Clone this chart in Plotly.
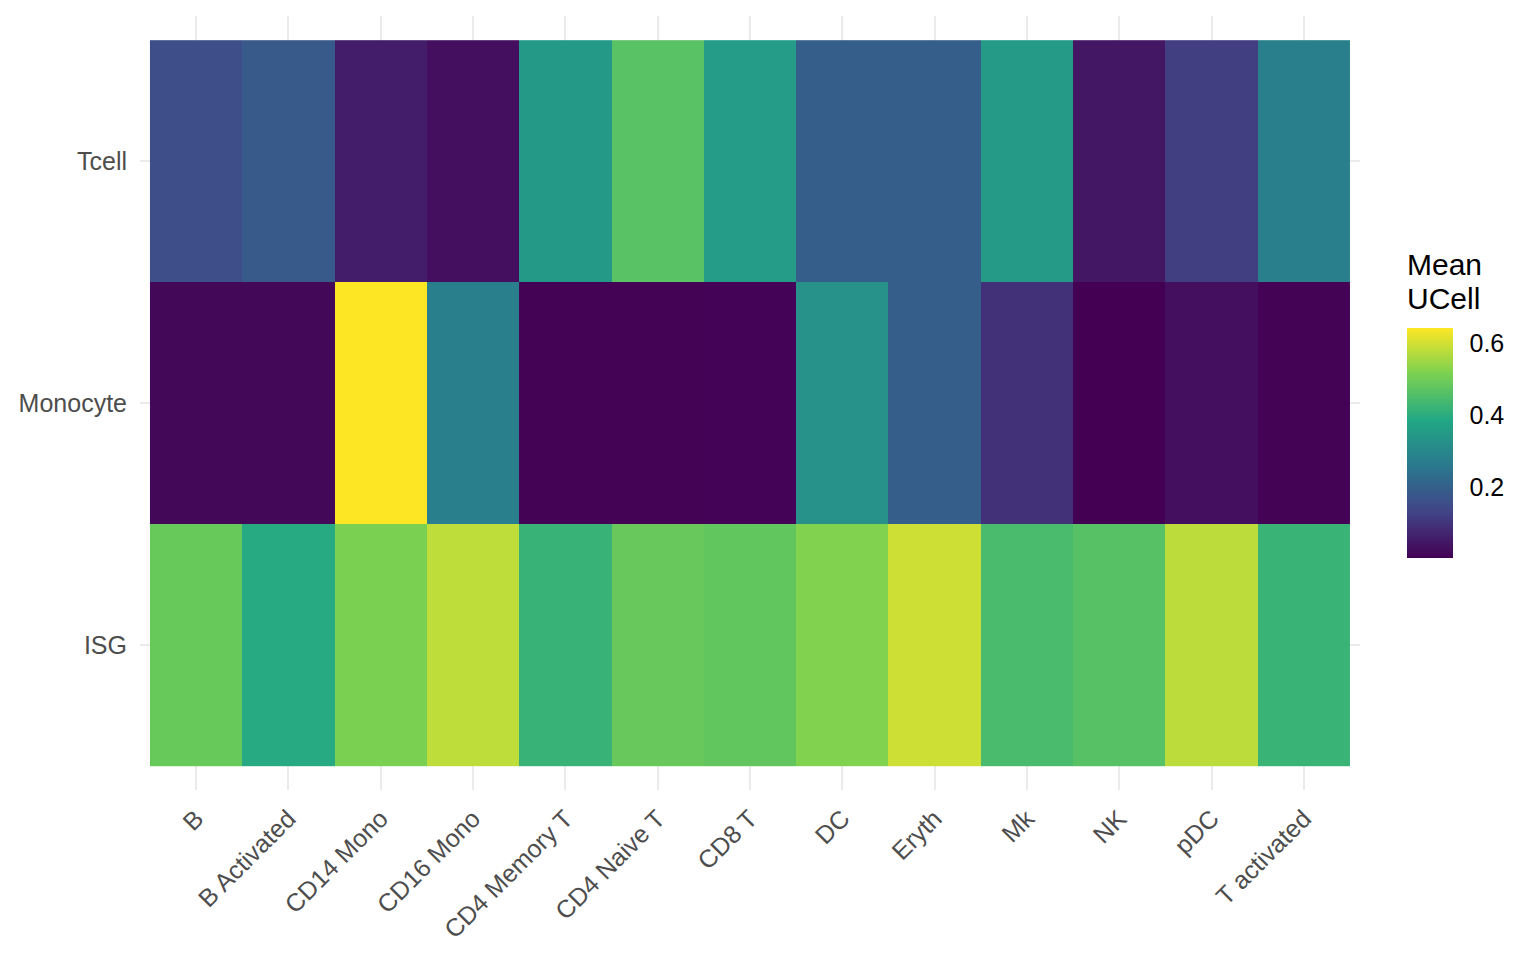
import plotly.graph_objects as go

cell_types = ["B", "B Activated", "CD14 Mono", "CD16 Mono", "CD4 Memory T", "CD4 Naive T",
              "CD8 T", "DC", "Eryth", "Mk", "NK", "pDC", "T activated"]
signatures = ["ISG", "Monocyte", "Tcell"]  # bottom to top

tcell = [0.156, 0.185, 0.057, 0.030, 0.347, 0.466, 0.354, 0.195, 0.195, 0.349, 0.045, 0.120, 0.280]
monocyte = [0.017, 0.017, 0.641, 0.280, 0.007, 0.007, 0.008, 0.328, 0.195, 0.096, 0.004, 0.030, 0.007]
isg = [0.488, 0.393, 0.514, 0.581, 0.418, 0.487, 0.479, 0.519, 0.594, 0.444, 0.463, 0.578, 0.420]

colorbar_ticks = [0.2, 0.4, 0.6]
colorbar_ticktext = ["0.2", "0.4", "0.6"]
legend_title = ["Mean", "UCell"]

# ggplot viridis (6 anchor colours, interpolated)
viridis = [
    [0.0, "#440154"], [0.2, "#414487"], [0.4, "#2A788E"],
    [0.6, "#22A884"], [0.8, "#7AD151"], [1.0, "#FDE725"],
]

FONT = "Liberation Sans, Arial, sans-serif"
W, H = 1536, 960
ML, MR, MT, MB = 140, 176, 16, 170
PW, PH = W - ML - MR, H - MT - MB

# colourbar geometry (pixels)
CB_LEFT, CB_W, CB_BOTTOM, CB_LEN = 1407, 46, 558, 230

z = [isg, monocyte, tcell]
all_vals = isg + monocyte + tcell
zmin, zmax = min(all_vals), max(all_vals)

fig = go.Figure(
    go.Heatmap(
        x=cell_types,
        y=signatures,
        z=z,
        zmin=zmin,
        zmax=zmax,
        colorscale=viridis,
        xgap=0, ygap=0,
        colorbar=dict(
            thickness=CB_W,
            thicknessmode="pixels",
            len=CB_LEN,
            lenmode="pixels",
            xref="paper", x=(CB_LEFT - ML) / PW, xanchor="left",
            yref="paper", y=(MT + PH - CB_BOTTOM) / PH, yanchor="bottom",
            outlinewidth=0,
            ticks="outside",
            ticklen=12,
            tickcolor="rgba(0,0,0,0)",
            tickvals=colorbar_ticks,
            ticktext=colorbar_ticktext,
            tickfont=dict(family=FONT, size=25, color="black"),
            xpad=0, ypad=0,
        ),
    )
)

# white tick marks inside the colour bar (both edges, like ggplot)
tick_len = CB_W / 5
for v in colorbar_ticks:
    py = CB_BOTTOM - (v - zmin) / (zmax - zmin) * CB_LEN
    yp = (MT + PH - py) / PH
    for xa, xb in [(CB_LEFT, CB_LEFT + tick_len), (CB_LEFT + CB_W - tick_len, CB_LEFT + CB_W)]:
        fig.add_shape(
            type="line", xref="paper", yref="paper",
            x0=(xa - ML) / PW, x1=(xb - ML) / PW, y0=yp, y1=yp,
            line=dict(color="white", width=1.5), layer="above",
        )

# legend title lines
for txt, ypx in zip(legend_title, [264, 298]):
    fig.add_annotation(
        text=txt, xref="paper", yref="paper",
        x=(1405 - ML) / PW, y=(MT + PH - ypx) / PH,
        xanchor="left", yanchor="middle", showarrow=False,
        font=dict(family=FONT, size=30, color="black"),
    )

fig.update_layout(
    width=W,
    height=H,
    margin=dict(l=ML, r=MR, t=MT, b=MB),
    paper_bgcolor="white",
    plot_bgcolor="white",
    font=dict(family=FONT, size=25, color="#4d4d4d"),
)

fig.update_xaxes(
    range=[-0.608, 12.608],
    showgrid=True, gridcolor="#ebebeb", gridwidth=2.3,
    zeroline=False, showline=False, ticks="",
    tickangle=-45,
    tickfont=dict(family=FONT, size=25, color="#4d4d4d"),
    ticklabelstandoff=8,
)
fig.update_yaxes(
    range=[-0.6, 2.6],
    categoryorder="array", categoryarray=signatures,
    showgrid=True, gridcolor="#ebebeb", gridwidth=2.3,
    zeroline=False, showline=False, ticks="",
    tickfont=dict(family=FONT, size=25, color="#4d4d4d"),
    ticklabelstandoff=12,
)

fig.write_html("out.html")
